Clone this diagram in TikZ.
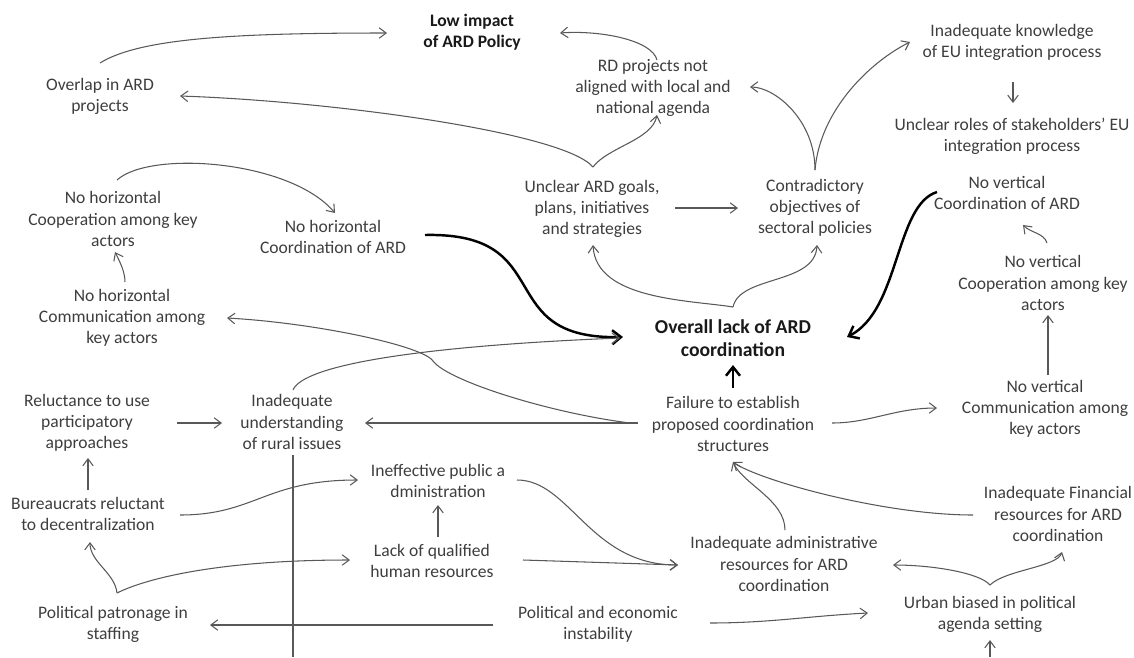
\documentclass[tikz,border=0pt]{standalone}
\usepackage{fontspec}
\setmainfont{Carlito}
\usepackage{tikz}
\usetikzlibrary{arrows.meta, calc}
\definecolor{txtgray}{RGB}{62,62,62}
\definecolor{linegray}{RGB}{88,88,88}
\tikzset{
    issue/.style={align=center, text=txtgray, inner sep=0pt, font=\fontsize{10}{12}\selectfont},
    keyissue/.style={issue, text=black!90, font=\bfseries\fontsize{10}{12}\selectfont},
    coreissue/.style={issue, text=black!90, font=\bfseries\fontsize{11.2}{13}\selectfont},
    cause/.style={draw=linegray, line width=0.6pt, -{Straight Barb[length=4pt,width=6pt]}},
    strongcause/.style={draw=black, line width=1.4pt, -{Straight Barb[length=5pt,width=8pt]}},
    plainline/.style={draw=linegray, line width=0.6pt}
}

\begin{document}
\begin{tikzpicture}[x=0.02cm, y=-0.02cm]
    \useasboundingbox (0,0) rectangle (1134,657);

    % problems
    \node[keyissue] (lowimpact) at (472,32) {Low impact\\of ARD Policy};
    \node[issue] (overlap) at (100,96) {Overlap in ARD\\projects};
    \node[issue] (rdproj) at (653,88) {RD projects not\\aligned with local and\\national agenda};
    \node[issue] (knowledge) at (1012,42) {Inadequate knowledge\\of EU integration process};
    \node[issue] (roles) at (1012,136) {Unclear roles of stakeholders' EU\\integration process};
    \node[issue] (coophor) at (113,219) {No horizontal\\Cooperation among key\\actors};
    \node[issue] (coordhor) at (333,237) {No horizontal\\Coordination of ARD};
    \node[issue] (goals) at (592,209) {Unclear ARD goals,\\plans, initiatives\\and strategies};
    \node[issue] (contra) at (815,208) {Contradictory\\objectives of\\sectoral policies};
    \node[issue] (coordver) at (1007,193) {No vertical\\Coordination of ARD};
    \node[issue] (commhor) at (122,318) {No horizontal\\Communication among\\key actors};
    \node[coreissue] (overall) at (733,338) {Overall lack of ARD\\coordination};
    \node[issue] (coopver) at (1043,283) {No vertical\\Cooperation among key\\actors};
    \node[issue] (failure) at (733,424) {Failure to establish\\proposed coordination\\structures};
    \node[issue] (commver) at (1045,409) {No vertical\\Communication among\\key actors};
    \node[issue] (reluct) at (87,423) {Reluctance to use\\participatory\\approaches};
    \node[issue] (inadeq) at (292,422) {Inadequate\\understanding\\of rural issues};
    \node[issue] (bureau) at (88,514) {Bureaucrats reluctant\\to decentralization};
    \node[issue] (ineff) at (438,481) {Ineffective public a\\dministration};
    \node[issue] (lack) at (432,561) {Lack of qualified\\human resources};
    \node[issue] (instab) at (598,624) {Political and economic\\instability};
    \node[issue] (patron) at (113,624) {Political patronage in\\staffing};
    \node[issue] (admin) at (784,564) {Inadequate administrative\\resources for ARD\\coordination};
    \node[issue] (financial) at (1058,514) {Inadequate Financial\\resources for ARD\\coordination};
    \node[issue] (urban) at (990,614) {Urban biased in political\\agenda setting};
    \coordinate (urbanin) at (990,657);
    \coordinate (axisfoot) at (293,657);

    % upper part
    \draw[cause] ($(overlap)+(0,-33)$) .. controls +(40,-25) and +(-150,0) .. ($(lowimpact)+(-85,1)$);
    \draw[cause] ($(goals)+(1,-42)$) .. controls +(-30,-35) and +(150,5) .. ($(overlap)+(80,0)$);
    \draw[cause] ($(goals)+(1,-42)$) .. controls +(15,-20) and +(-5,25) .. ($(rdproj)+(4,27)$);
    \draw[cause] ($(rdproj)+(4,-28)$) .. controls +(-5,-20) and +(40,-3) .. ($(lowimpact)+(88,1)$);
    \draw[cause] ($(contra)+(0,-38)$) .. controls +(0,-50) and +(25,0) .. ($(rdproj)+(97,-1)$);
    \draw[cause] ($(contra)+(0,-38)$) .. controls +(5,-60) and +(-40,20) .. ($(knowledge)+(-102,0)$);
    \draw[cause] ($(knowledge)+(1,40)$) -- ($(roles)+(1,-33)$);
    \draw[cause] ($(goals)+(83,-1)$) -- ($(contra)+(-77,0)$);

    % horizontal side
    \draw[cause] ($(coophor)+(4,-39)$) .. controls +(33,-30) and +(-45,-53) .. ($(coordhor)+(2,-24)$);
    \draw[cause] ($(commhor)+(3,-36)$) .. controls +(0,-10) and +(5,10) .. ($(coophor)+(2,33)$);
    \draw[strongcause] ($(coordhor)+(92,-2)$) .. controls +(135,-3) and +(-133,3) .. ($(overall)+(-110,-1)$);
    \draw[cause] ($(inadeq)+(1,-32)$) .. controls +(10,-25) and +(-200,8) .. ($(overall)+(-113,0)$);
    \draw[cause] ($(failure)+(-103,-1)$) .. controls +(-80,-10) and +(15,20) .. ($(failure)+(-300,-63)$)
        .. controls +(-10,-15) and +(90,5) .. ($(commhor)+(105,0)$);
    \draw[cause] ($(failure)+(-95,-1)$) -- ($(inadeq)+(73,1)$);
    \draw[cause] ($(reluct)+(90,0)$) -- ($(inadeq)+(-70,1)$);

    % centre
    \draw[cause] ($(overall)+(0,-31)$) .. controls +(-43,-7) and +(3,55) .. ($(goals)+(1,36)$);
    \draw[cause] ($(overall)+(0,-31)$) .. controls +(7,-32) and +(-2,40) .. ($(contra)+(2,37)$);
    \draw[strongcause] ($(failure)+(0,-36)$) -- ($(overall)+(0,27)$);

    % vertical side
    \draw[strongcause] ($(coordver)+(-70,-1)$) .. controls +(-42,13) and +(53,-27) .. ($(overall)+(114,-1)$);
    \draw[cause] ($(coopver)+(4,-40)$) .. controls +(-3,-10) and +(8,8) .. ($(coordver)+(16,32)$);
    \draw[cause] ($(commver)+(3,-34)$) -- ($(coopver)+(5,32)$);
    \draw[cause] ($(failure)+(99,-1)$) .. controls +(38,0) and +(-42,0) .. ($(commver)+(-108,-1)$);

    % lower part
    \draw[cause] ($(bureau)+(0,-24)$) -- ($(reluct)+(1,35)$);
    \draw[cause] ($(bureau)+(92,1)$) .. controls +(75,0) and +(-93,0) .. ($(ineff)+(-80,-1)$);
    \draw[cause] ($(patron)+(4,-31)$) .. controls +(-2,-20) and +(0,20) .. ($(bureau)+(2,28)$);
    \draw[cause] ($(patron)+(4,-31)$) .. controls +(30,-15) and +(-130,0) .. ($(lack)+(-82,-1)$);
    \draw[cause] ($(lack)+(6,-24)$) -- ($(ineff)+(0,24)$);
    \draw[cause] ($(ineff)+(79,-1)$) .. controls +(53,0) and +(-88,0) .. ($(admin)+(-106,1)$);
    \draw[cause] ($(lack)+(91,-1)$) -- ($(admin)+(-106,1)$);
    \draw[cause] ($(admin)+(1,-34)$) .. controls +(0,-30) and +(10,22) .. ($(failure)+(0,38)$);
    \draw[cause] ($(financial)+(-85,1)$) .. controls +(-90,0) and +(25,18) .. ($(failure)+(0,38)$);
    \draw[cause] ($(urban)+(0,-29)$) .. controls +(-10,-12) and +(40,0) .. ($(admin)+(109,1)$);
    \draw[cause] ($(urban)+(0,-29)$) .. controls +(15,-15) and +(-5,15) .. ($(financial)+(4,38)$);
    \draw[cause] ($(instab)+(-105,1)$) -- ($(patron)+(97,1)$);
    \draw[cause] ($(instab)+(112,-1)$) .. controls +(60,0) and +(-60,3) .. ($(urban)+(-122,-1)$);
    \draw[cause] (urbanin) -- ($(urban)+(0,26)$);
    \draw[plainline] ($(inadeq)+(1,33)$) -- (axisfoot);
\end{tikzpicture}
\end{document}
